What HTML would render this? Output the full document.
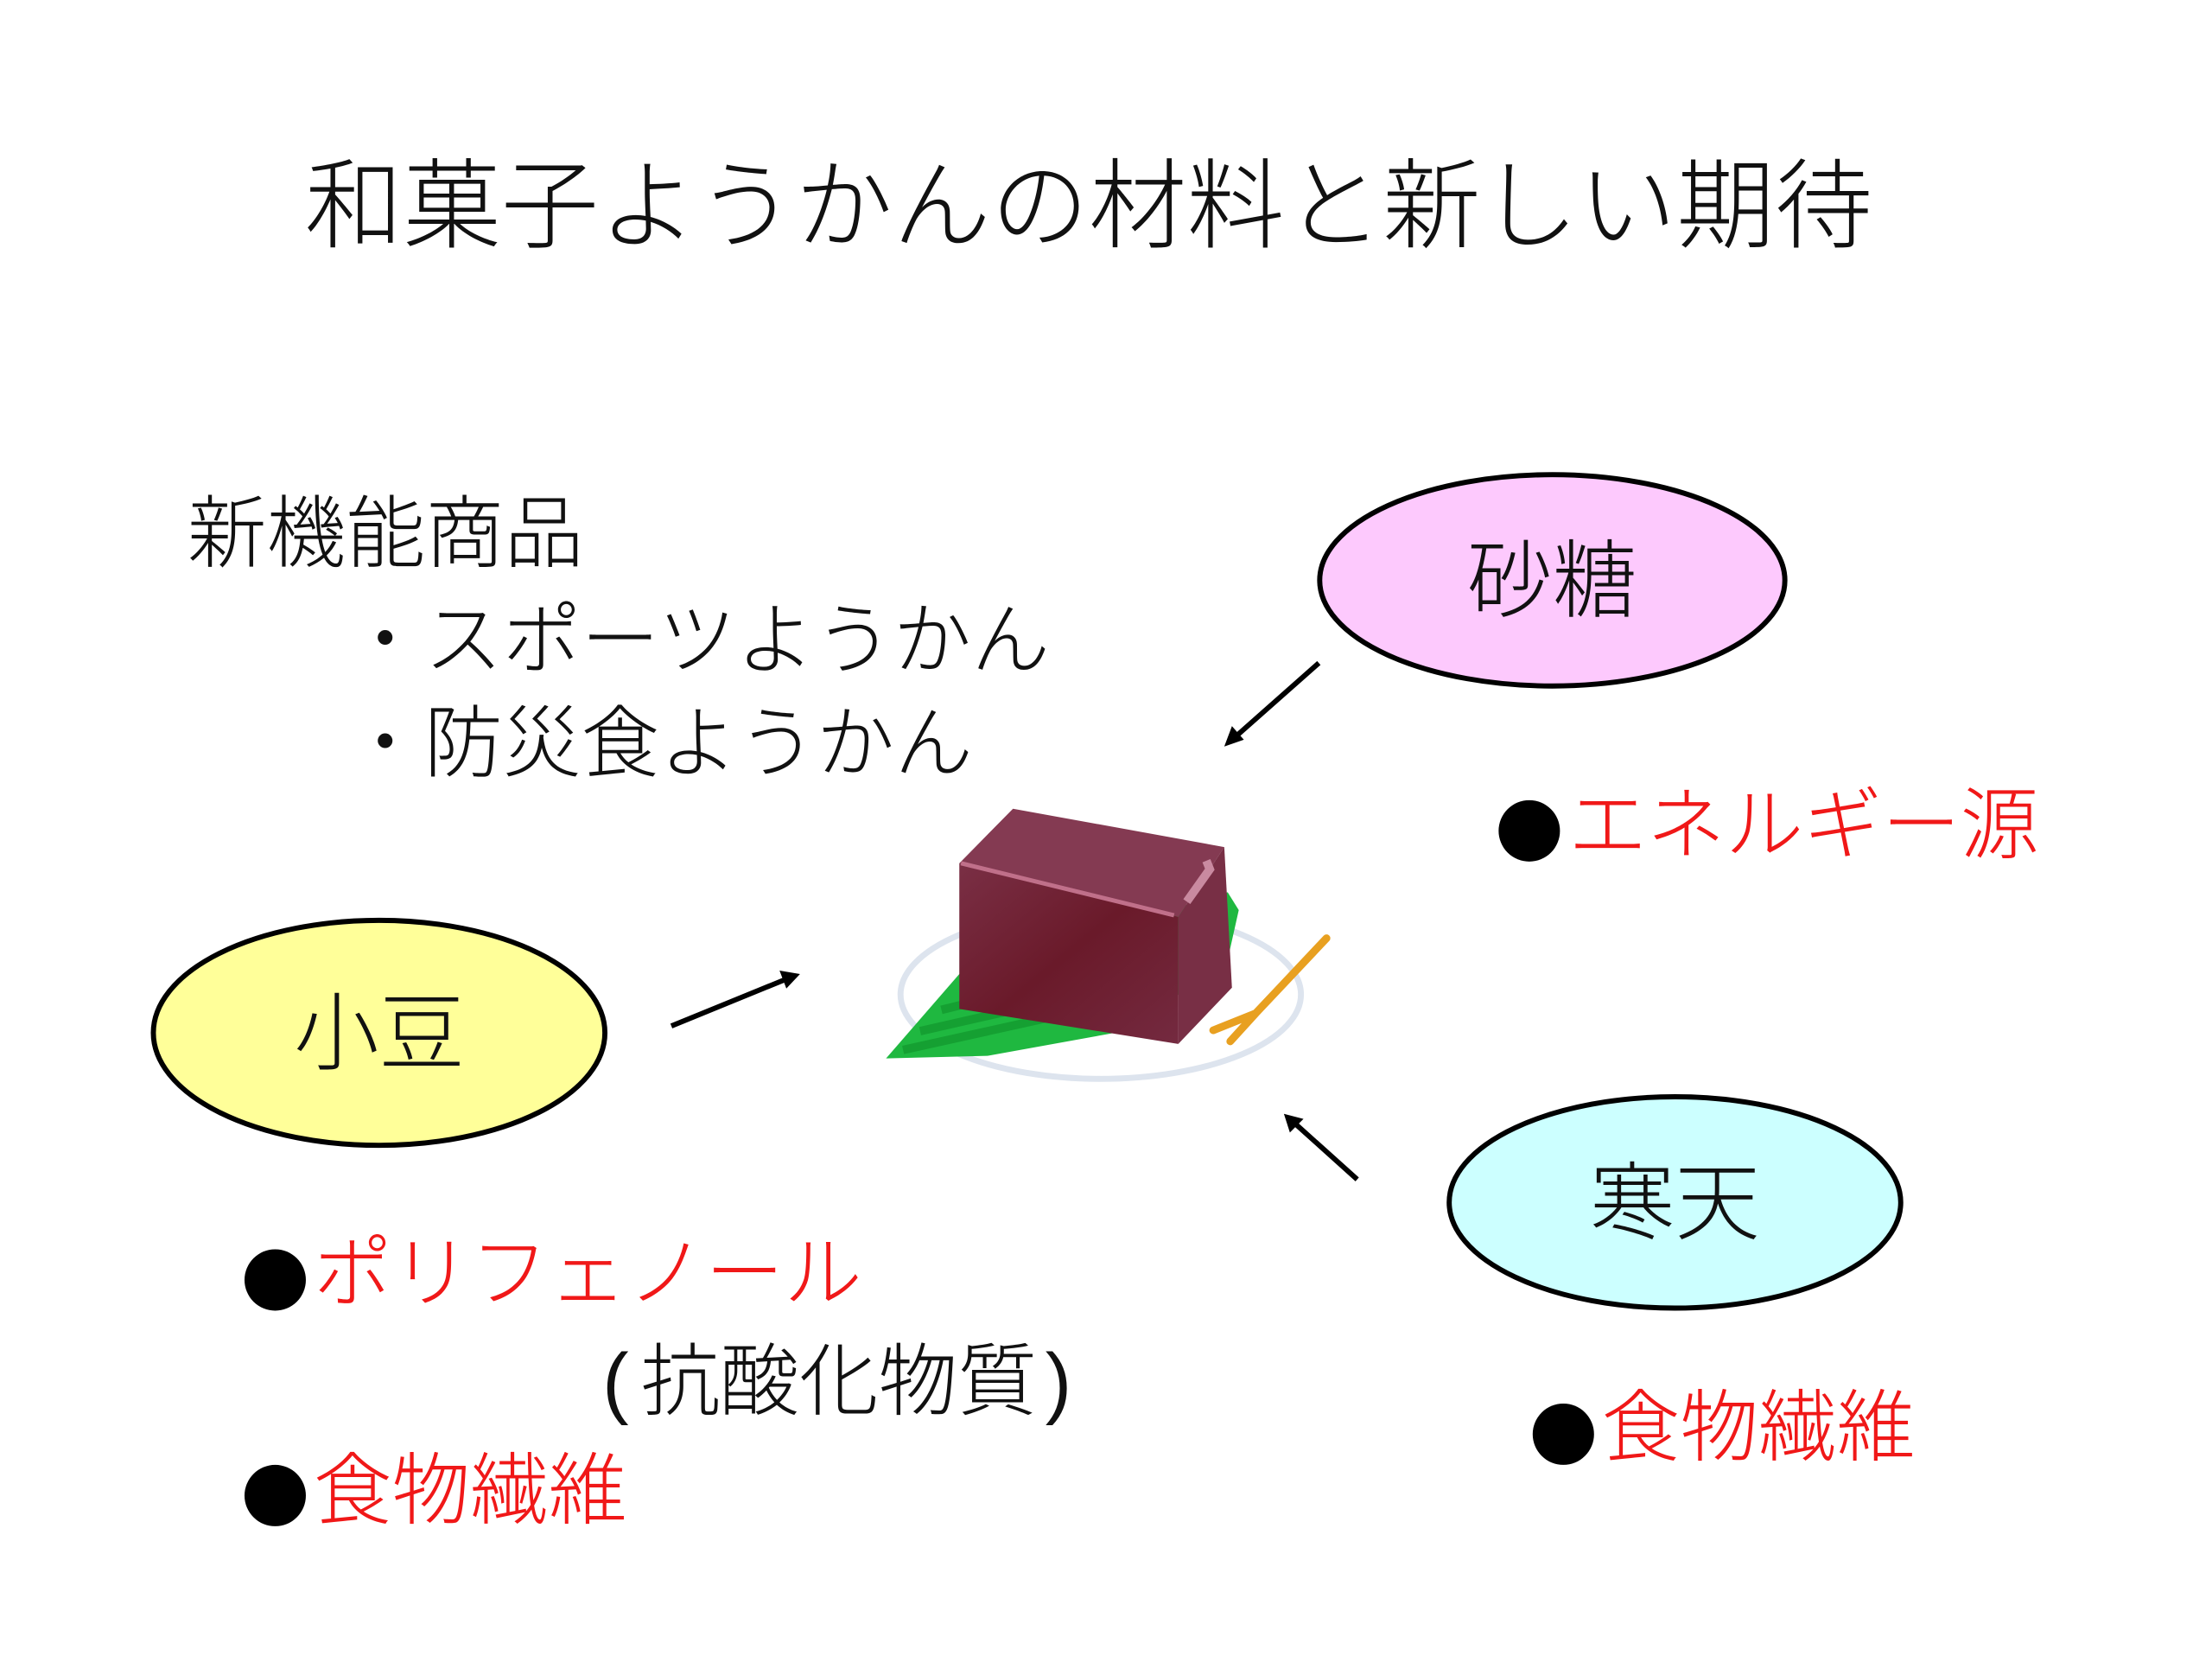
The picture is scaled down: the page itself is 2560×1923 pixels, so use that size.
<!DOCTYPE html>
<html><head><meta charset="utf-8"><style>
html,body{margin:0;padding:0;background:#fff;}
body{width:2560px;height:1920px;position:relative;overflow:hidden;font-family:"Liberation Sans","Noto Sans CJK JP",sans-serif;}
#w{position:absolute;left:0;top:0;width:2600px;height:1950px;transform:scale(0.986);transform-origin:0 0;}
.t{position:absolute;white-space:nowrap;line-height:1;font-weight:300;color:#111;}
.r{color:#f01818;}
</style></head><body><div id="w">
<svg width="2600" height="1950" style="position:absolute;left:0;top:0">
<defs>
<linearGradient id="fr" x1="0" y1="0" x2="1" y2="1"><stop offset="0" stop-color="#7a2f45"/><stop offset="0.5" stop-color="#6a1a2a"/><stop offset="1" stop-color="#742a40"/></linearGradient>
</defs>
<ellipse cx="1822" cy="681" rx="273" ry="124" fill="#fdc9fd" stroke="#000" stroke-width="6"/>
<ellipse cx="445" cy="1212" rx="265" ry="132" fill="#ffff99" stroke="#000" stroke-width="6"/>
<ellipse cx="1966" cy="1411" rx="265" ry="124" fill="#ccffff" stroke="#000" stroke-width="6"/>
<g stroke="#000" stroke-width="6">
<line x1="1548" y1="778" x2="1444" y2="870"/>
<line x1="788" y1="1204" x2="930" y2="1146"/>
<line x1="1593" y1="1384" x2="1514" y2="1313"/>
</g>
<polygon points="1437,876 1446,852 1460,868" fill="#000"/>
<polygon points="939,1143 915,1139 923,1160" fill="#000"/>
<polygon points="1507,1307 1530,1313 1514,1329" fill="#000"/>
<ellipse cx="1292" cy="1167" rx="235" ry="99" fill="#fff" stroke="#dde4ee" stroke-width="7"/>
<polygon points="1040,1242 1126,1143 1441,1047 1454,1068 1441,1126 1325,1209 1159,1239" fill="#1fb840"/>
<path d="M1060,1232 L1250,1190 M1080,1210 L1300,1160 M1105,1185 L1350,1125" stroke="#15a032" stroke-width="10"/>
<polygon points="1189,949 1437,994 1383,1076 1126,1013" fill="#843a52"/>
<polygon points="1437,994 1446,1159 1383,1225 1383,1076" fill="#782f45"/>
<polygon points="1126,1013 1383,1076 1383,1225 1126,1184" fill="url(#fr)"/>
<path d="M1128,1013 L1378,1074" stroke="#c0708a" stroke-width="5"/>
<path d="M1416,1010 L1420,1020 L1393,1058" stroke="#c98aa0" stroke-width="10" fill="none"/>
<path d="M1557,1101 L1474,1189 M1474,1189 L1424,1209 M1474,1189 L1444,1222" stroke="#e8a020" stroke-width="9" stroke-linecap="round" fill="none"/>
<g fill="#000">
<circle cx="1795" cy="975" r="36"/>
<circle cx="323" cy="1502" r="36"/>
<circle cx="323" cy="1755" r="36"/>
<circle cx="1835" cy="1683" r="36"/>
</g>
</svg>
<div class="t" style="left:358px;top:186px;font-size:115px;">和菓子ようかんの材料と新しい期待</div>
<div class="t" style="left:220px;top:580px;font-size:93px;">新機能商品</div>
<div class="t" style="left:406px;top:706px;font-size:92px;">・スポーツようかん</div>
<div class="t" style="left:406px;top:827px;font-size:92px;">・防災食ようかん</div>
<div class="t" style="left:1722px;top:632px;font-size:100px;">砂糖</div>
<div class="t" style="left:345px;top:1163px;font-size:100px;">小豆</div>
<div class="t" style="left:1866px;top:1362px;font-size:100px;">寒天</div>
<div class="t r" style="left:1841px;top:923px;font-size:92px;">エネルギー源</div>
<div class="t r" style="left:368px;top:1449px;font-size:92px;">ポリフェノール</div>
<div class="t" style="left:707px;top:1575px;font-size:93px;">(<span style="margin-left:14px;margin-right:10px">抗酸化物質</span>)</div>
<div class="t r" style="left:368px;top:1704px;font-size:92px;">食物繊維</div>
<div class="t r" style="left:1880px;top:1630px;font-size:92px;">食物繊維</div>
</div></body></html>
